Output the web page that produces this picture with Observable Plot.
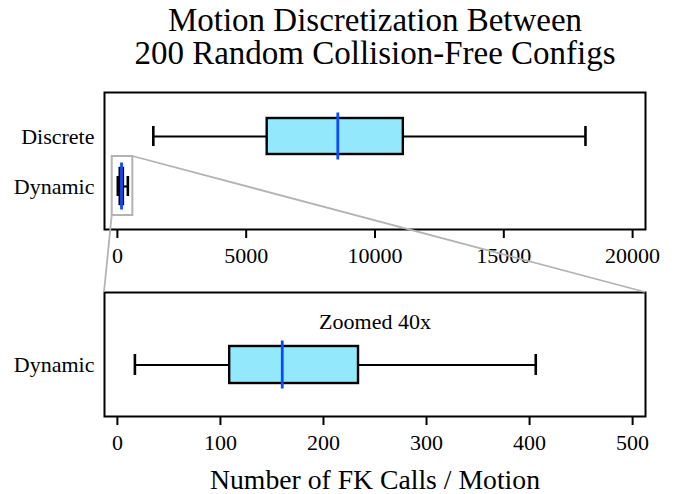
<!DOCTYPE html>
<html>
<head>
<meta charset="utf-8">
<script src="https://cdn.jsdelivr.net/npm/d3@7"></script>
<script src="https://cdn.jsdelivr.net/npm/@observablehq/plot@0.6"></script>
<style>
  html, body { margin: 0; padding: 0; background: white; }
  #figure { position: relative; width: 676px; height: 494px; overflow: hidden; }
  #figure > svg, #figure > div { position: absolute; left: 0; }
</style>
</head>
<body>
<div id="figure"></div>
<script>
// Box-plot statistics of FK calls per motion (200 random collision-free configs)
const categories = ["Discrete", "Dynamic"];
const whiskerLow  = [1395, 17];
const q1          = [5815, 109];
const median      = [8556, 160];
const q3          = [11100, 234];
const whiskerHigh = [18170, 406];

// Axis settings
const topDomain = [-500, 20500];
const zoomFactor = 40;
const bottomDomain = topDomain.map(v => v / zoomFactor);
const topTicks = [0, 5000, 10000, 15000, 20000];
const bottomTicks = [0, 100, 200, 300, 400, 500];
// Region of the upper panel that the lower panel magnifies
const zoomWindow = [-200, 600];

const titleText = "Motion Discretization Between\n200 Random Collision-Free Configs";
const xLabel = "Number of FK Calls / Motion";
const zoomNote = "Zoomed 40x";

const rows = categories.map((category, i) => ({
  category,
  low: whiskerLow[i], q1: q1[i], median: median[i], q3: q3[i], high: whiskerHigh[i]
}));
const dynamicRows = rows.filter(d => d.category === "Dynamic");

const boxFill = "#93e9fb";
const medianColor = "#0a4bff";
const insetColor = "#b3b3b3";
const font = '"Liberation Serif", "Times New Roman", serif';

const baseStyle = {fontFamily: font, fontSize: "22px", color: "black", background: "none", overflow: "visible"};

function boxMarks(data) {
  return [
    Plot.ruleY(data, {y: "category", x1: "low", x2: "q1", stroke: "black", strokeWidth: 2.2}),
    Plot.ruleY(data, {y: "category", x1: "q3", x2: "high", stroke: "black", strokeWidth: 2.2}),
    Plot.tickX(data, {x: "low", y: "category", stroke: "black", strokeWidth: 2.6, insetTop: 8, insetBottom: 8}),
    Plot.tickX(data, {x: "high", y: "category", stroke: "black", strokeWidth: 2.6, insetTop: 8, insetBottom: 8}),
    Plot.barX(data, {x1: "q1", x2: "q3", y: "category", fill: boxFill, stroke: "black", strokeWidth: 2.4}),
    Plot.tickX(data, {x: "median", y: "category", stroke: medianColor, strokeWidth: 2.8, insetTop: -5.5, insetBottom: -5.5})
  ];
}

const fig = document.getElementById("figure");

// Upper panel: full range
const topOffset = 0;
const rectInsetTop = -12, rectInsetBottom = -11;
const topPlot = Plot.plot({
  width: 676,
  height: 270,
  marginTop: 92,
  marginBottom: 41,
  marginLeft: 104,
  marginRight: 31,
  style: baseStyle,
  x: {domain: topDomain},
  y: {type: "band", domain: categories, range: [116.7, 204.3], paddingInner: 0.282, paddingOuter: 0, align: 0.5},
  marks: [
    Plot.frame({stroke: "black", strokeWidth: 2}),
    ...boxMarks(rows),
    Plot.barX([zoomWindow], {x1: d => d[0], x2: d => d[1], y: () => "Dynamic", fill: "none", stroke: insetColor, strokeWidth: 2, insetTop: rectInsetTop, insetBottom: rectInsetBottom}),
    Plot.axisX({ticks: topTicks, tickFormat: d3.format("d"), tickSize: 9, tickPadding: 9, fontSize: 22, strokeWidth: 2, label: null}),
    Plot.axisY({tickSize: 0, tickPadding: 10, fontSize: 22, label: null}),
    Plot.text([titleText], {frameAnchor: "top", lineAnchor: "bottom", dy: -29, fontSize: 33, lineHeight: 1, fill: "black"})
  ]
});
topPlot.style.top = topOffset + "px";
fig.appendChild(topPlot);

// Lower panel: magnified view of the dynamic approach
const bottomOffset = 262;
const bottomMarginTop = 30;
const bottomPlot = Plot.plot({
  width: 676,
  height: 232,
  marginTop: bottomMarginTop,
  marginBottom: 78,
  marginLeft: 104,
  marginRight: 31,
  style: baseStyle,
  x: {domain: bottomDomain},
  y: {type: "band", domain: ["Dynamic"], range: [83.7, 120.7], paddingInner: 0, paddingOuter: 0},
  marks: [
    Plot.frame({stroke: "black", strokeWidth: 2}),
    ...boxMarks(dynamicRows),
    Plot.axisX({ticks: bottomTicks, tickFormat: d3.format("d"), tickSize: 9, tickPadding: 9, fontSize: 22, strokeWidth: 2, label: null}),
    Plot.axisY({tickSize: 0, tickPadding: 10, fontSize: 22, label: null}),
    Plot.text([zoomNote], {frameAnchor: "top", lineAnchor: "bottom", dy: 36, fontSize: 22, fill: "black"}),
    Plot.text([xLabel], {frameAnchor: "bottom", lineAnchor: "bottom", dy: 72, fontSize: 27.7, fill: "black"})
  ]
});
bottomPlot.style.top = bottomOffset + "px";
fig.appendChild(bottomPlot);

// Connector lines from the zoom window to the lower panel, placed with both plots' scales
const tx = topPlot.scale("x"), ty = topPlot.scale("y");
const bx = bottomPlot.scale("x");
const winLeft = tx.apply(zoomWindow[0]);
const winRight = tx.apply(zoomWindow[1]);
const winTop = topOffset + ty.apply("Dynamic") + rectInsetTop;
const winBottom = topOffset + ty.apply("Dynamic") + ty.bandwidth - rectInsetBottom;
const panelTop = bottomOffset + bottomMarginTop;
const connectors = [
  [[winRight, winTop], [bx.apply(bottomDomain[1]), panelTop]],
  [[winLeft, winBottom], [bx.apply(bottomDomain[0]), panelTop]]
];
const overlay = d3.select(fig).append("svg")
  .attr("width", 676).attr("height", 494)
  .style("top", "0px").style("pointer-events", "none");
overlay.selectAll("line").data(connectors).join("line")
  .attr("x1", d => d[0][0]).attr("y1", d => d[0][1])
  .attr("x2", d => d[1][0]).attr("y2", d => d[1][1])
  .attr("stroke", insetColor).attr("stroke-width", 1.8);
</script>
</body>
</html>
